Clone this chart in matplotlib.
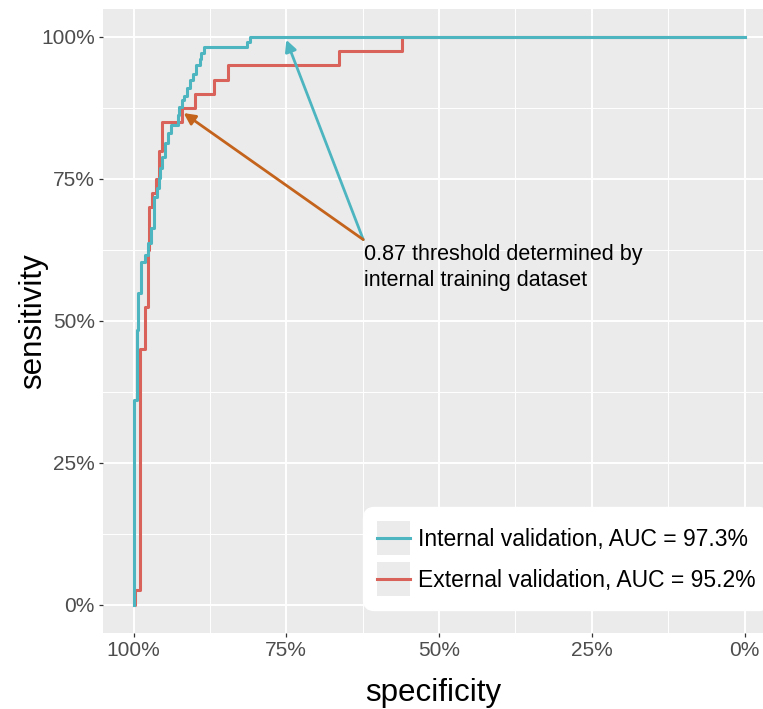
import matplotlib.pyplot as plt
from matplotlib.legend_handler import HandlerLine2D
from matplotlib.lines import Line2D
from matplotlib.patches import Rectangle

plt.rcParams['font.family'] = ['Liberation Sans', 'DejaVu Sans']

# ROC staircase points (specificity %, sensitivity %)
internal_spec = [100, 99.5, 99.2, 98.7, 98.2, 97.7, 97.2, 96.7, 96.2, 95.9, 95.6, 95.4, 94.8, 94.3,
                 93.9, 92.8, 92.6, 92.0, 91.7, 91.3, 90.8, 90.3, 89.8, 89.2, 88.9, 88.5, 81.5, 80.9, 0]
internal_sens = [0, 36.1, 48.4, 54.9, 60.4, 61.6, 63.7, 66.4, 71.8, 73.4, 75.2, 76.9, 78.9, 81.3,
                 83.1, 84.5, 86.3, 87.7, 88.9, 89.6, 91.0, 92.4, 93.5, 95.1, 96.1, 97.2, 98.2, 99.1, 100]

external_spec = [100, 99.7, 98.9, 98.2, 97.7, 97.4, 96.9, 96.4, 95.9, 95.3, 92.0, 89.9, 86.9, 84.5,
                 66.4, 56.0, 0]
external_sens = [0, 0, 2.5, 45, 52.5, 62.5, 70, 72.5, 75, 80, 85, 87.5, 90, 92.5, 95, 97.5, 100]

series_labels = ['Internal validation, AUC = 97.3%', 'External validation, AUC = 95.2%']
ticks = [100, 75, 50, 25, 0]
tick_labels = ['100%', '75%', '50%', '25%', '0%']
minor_ticks = [87.5, 62.5, 37.5, 12.5]

# annotation: threshold point on each curve
note_text = '0.87 threshold determined by\ninternal training dataset'
note_origin = (62.4, 64.3)
internal_thr = (75.0, 99.5)
external_thr = (91.8, 86.6)

teal = '#4DB5C0'
red = '#D9625A'
orange = '#C4631B'


class KeyHandler(HandlerLine2D):
    # ggplot-like grey key background, line centred in it
    def create_artists(self, legend, orig_handle, xdescent, ydescent, width, height, fontsize, trans):
        bg = Rectangle((-xdescent, -ydescent), width, height, facecolor='#EBEBEB',
                       edgecolor='none', transform=trans)
        arts = list(super().create_artists(legend, orig_handle, xdescent, ydescent, width, height,
                                           fontsize, trans))
        yc = height / 2 - ydescent
        for a in arts:
            if isinstance(a, Line2D):
                a.set_xdata([-xdescent, width - xdescent])
                a.set_ydata([yc, yc])
        return [bg] + arts


fig = plt.figure(figsize=(7.63, 7.09), dpi=100)
ax = fig.add_axes([103 / 763, 76 / 709, 660 / 763, 624.4 / 709])
ax.set_facecolor('#EBEBEB')
for s in ax.spines.values():
    s.set_visible(False)

l_ext, = ax.step(external_spec, external_sens, where='pre', color=red, lw=2.2)
l_int, = ax.step(internal_spec, internal_sens, where='pre', color=teal, lw=2.2)

ax.set_xlim(105, 105 - 660 / 6.11)
ax.set_ylim(-5, 105)

ax.set_xticks(ticks, tick_labels)
ax.set_yticks(ticks, tick_labels)
ax.set_xticks(minor_ticks, minor=True)
ax.set_yticks(minor_ticks, minor=True)
ax.tick_params(which='major', length=3, width=0.9, color='#333333', labelcolor='#4D4D4D',
               labelsize=15, pad=3)
ax.tick_params(which='minor', length=0)
ax.grid(which='major', color='white', lw=1.4)
ax.grid(which='minor', color='white', lw=0.7)
ax.set_axisbelow(True)

ax.set_xlabel('specificity', fontsize=22.5)
ax.set_ylabel('sensitivity', fontsize=22.5)
ax.xaxis.set_label_coords(0.5, -0.072)
ax.yaxis.set_label_coords(-0.083, 0.5)

ax.annotate('', xy=internal_thr, xytext=note_origin,
            arrowprops=dict(arrowstyle='-|>', color=teal, lw=2, mutation_scale=17,
                            shrinkA=0, shrinkB=0))
ax.annotate('', xy=external_thr, xytext=note_origin,
            arrowprops=dict(arrowstyle='-|>', color=orange, lw=2, mutation_scale=17,
                            shrinkA=0, shrinkB=0))
ax.text(note_origin[0] - 0.1, note_origin[1] - 0.8, note_text, fontsize=15.5, va='top', ha='left',
        linespacing=1.3)

leg = ax.legend([l_int, l_ext], series_labels, loc='lower left',
                bbox_to_anchor=(363 / 763, 99 / 709), bbox_transform=fig.transFigure,
                borderaxespad=0, borderpad=0.6, labelspacing=0.3, handletextpad=0.35,
                handlelength=1.45, handleheight=1.91, fontsize=16.5, frameon=True,
                framealpha=1, facecolor='white', edgecolor='white', fancybox=True,
                handler_map={l_int: KeyHandler(), l_ext: KeyHandler()})
leg.get_frame().set_boxstyle('round,pad=0,rounding_size=0.5')

fig.savefig('out.png', dpi=100)
